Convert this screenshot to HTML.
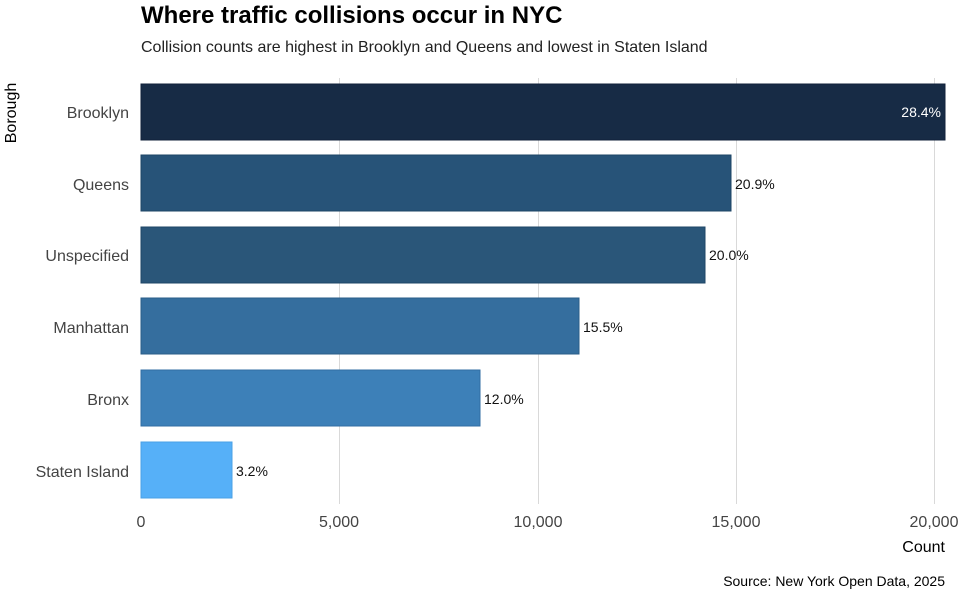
<!DOCTYPE html>
<html><head><meta charset="utf-8"><style>
html,body{margin:0;padding:0;background:#fff;width:960px;height:592px;overflow:hidden}
svg{display:block}
text{font-family:"Liberation Sans Narrow","Liberation Sans",sans-serif}
</style></head><body>
<svg width="960" height="592" xmlns="http://www.w3.org/2000/svg">
<text x="141" y="23" font-size="24" font-weight="bold" fill="#000">Where traffic collisions occur in NYC</text>
<text x="141" y="52" font-size="16" fill="#222">Collision counts are highest in Brooklyn and Queens and lowest in Staten Island</text>
<g stroke="#d9d9d9" stroke-width="1">
<line x1="339.5" y1="78" x2="339.5" y2="504"/>
<line x1="538.5" y1="78" x2="538.5" y2="504"/>
<line x1="736.5" y1="78" x2="736.5" y2="504"/>
<line x1="934.5" y1="78" x2="934.5" y2="504"/>
</g>
<g stroke-width="1">
<rect x="141" y="84" width="804" height="56" fill="#172b45" stroke="#10203a"/>
<rect x="141" y="155" width="590" height="56" fill="#275378" stroke="#1e4566"/>
<rect x="141" y="227" width="564" height="56" fill="#2a5679" stroke="#1e4566"/>
<rect x="141" y="298" width="438" height="56" fill="#356e9e" stroke="#2a5d88"/>
<rect x="141" y="370" width="339" height="56" fill="#3d80b8" stroke="#316ea3"/>
<rect x="141" y="442" width="91" height="56" fill="#56b0f8" stroke="#4aa0e6"/>
</g>
<g font-size="14" fill="#111">
<text x="941" y="117" text-anchor="end" fill="#fff">28.4%</text>
<text x="735" y="189">20.9%</text>
<text x="709" y="260">20.0%</text>
<text x="583" y="332">15.5%</text>
<text x="484" y="404">12.0%</text>
<text x="236" y="476">3.2%</text>
</g>
<g font-size="16" fill="#444" text-anchor="end">
<text x="129" y="118">Brooklyn</text>
<text x="129" y="190">Queens</text>
<text x="129" y="261">Unspecified</text>
<text x="129" y="333">Manhattan</text>
<text x="129" y="405">Bronx</text>
<text x="129" y="477">Staten Island</text>
</g>
<g font-size="16" fill="#444" text-anchor="middle">
<text x="141" y="527">0</text>
<text x="339" y="527">5,000</text>
<text x="538" y="527">10,000</text>
<text x="736" y="527">15,000</text>
<text x="934" y="527">20,000</text>
</g>
<text x="945" y="552" font-size="16" fill="#000" text-anchor="end">Count</text>
<text transform="translate(16,113) rotate(-90)" font-size="16" fill="#000" text-anchor="middle">Borough</text>
<text x="945" y="586" font-size="14" fill="#000" text-anchor="end">Source: New York Open Data, 2025</text>
</svg>
</body></html>
